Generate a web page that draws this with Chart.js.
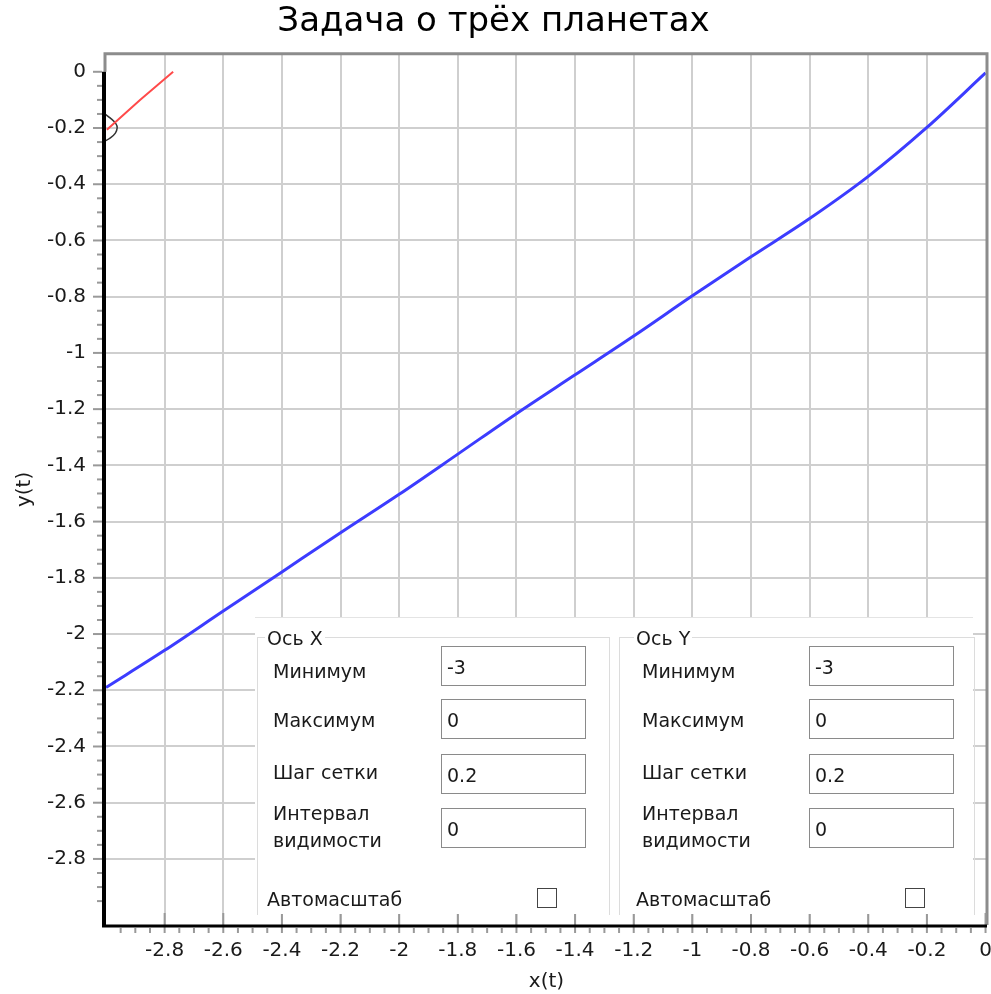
<!DOCTYPE html>
<html>
<head>
<meta charset="utf-8">
<script src="https://cdn.jsdelivr.net/npm/chart.js@4"></script>
<style>
  body { margin: 0; background: #fff; }
  #wrap { position: relative; width: 991px; height: 994px; }
  #panel { position: absolute; left: 255px; top: 617px; width: 718px; height: 296px; background: #fff; border-top: 1px solid #e4e4e4; font-family: 'DejaVu Sans', sans-serif; font-size: 19px; color: #1a1a1a; }
  .grp { position: absolute; top: 19px; height: 277px; border: 1px solid #dcdcdc; border-bottom: none; }
  .legend { position: absolute; top: 8px; background: #fff; padding: 0 2px; line-height: 24px; }
  .lbl { position: absolute; line-height: 24px; white-space: nowrap; }
  .lbl2 { position: absolute; line-height: 27px; white-space: nowrap; }
  .box { position: absolute; width: 145px; height: 40px; border: 1px solid #8a8a8a; background: #fff; line-height: 40px; padding-left: 5px; box-sizing: border-box; }
  .chk { position: absolute; width: 20px; height: 20px; border: 1px solid #444; box-sizing: border-box; background: #fff; }
</style>
</head>
<body>
<div id="wrap">
  <canvas id="myChart"></canvas>
  <div id="panel">
    <div class="grp" style="left:2px; width:351px;"></div>
    <div class="grp" style="left:364px; width:354px;"></div>
    <div class="legend" style="left:10px;">Ось X</div>
    <div class="legend" style="left:379px;">Ось Y</div>

    <div class="lbl" style="left:18px; top:41px;">Минимум</div>
    <div class="lbl" style="left:18px; top:90px;">Максимум</div>
    <div class="lbl" style="left:18px; top:142px;">Шаг сетки</div>
    <div class="lbl2" style="left:18px; top:182px;">Интервал<br>видимости</div>
    <div class="lbl" style="left:12px; top:269px;">Автомасштаб</div>
    <div class="box" style="left:186px; top:28px;">-3</div>
    <div class="box" style="left:186px; top:81px;">0</div>
    <div class="box" style="left:186px; top:136px;">0.2</div>
    <div class="box" style="left:186px; top:190px;">0</div>
    <div class="chk" style="left:282px; top:270px;"></div>

    <div class="lbl" style="left:387px; top:41px;">Минимум</div>
    <div class="lbl" style="left:387px; top:90px;">Максимум</div>
    <div class="lbl" style="left:387px; top:142px;">Шаг сетки</div>
    <div class="lbl2" style="left:387px; top:182px;">Интервал<br>видимости</div>
    <div class="lbl" style="left:381px; top:269px;">Автомасштаб</div>
    <div class="box" style="left:554px; top:28px;">-3</div>
    <div class="box" style="left:554px; top:81px;">0</div>
    <div class="box" style="left:554px; top:136px;">0.2</div>
    <div class="box" style="left:554px; top:190px;">0</div>
    <div class="chk" style="left:650px; top:270px;"></div>
  </div>
</div>
<script>
// planet paths
const blueX = [-3.0, -2.8, -2.6, -2.4, -2.2, -2.0, -1.8, -1.6, -1.4, -1.2, -1.0, -0.8, -0.6, -0.4, -0.2, 0.0];
const blueY = [-2.19, -2.058, -1.918, -1.779, -1.64, -1.503, -1.36, -1.216, -1.078, -0.94, -0.797, -0.658, -0.522, -0.372, -0.198, -0.004];
const redX = [-2.997, -2.884, -2.771];
const redY = [-0.206, -0.1, 0.0];
const blackX = [-3.01, -2.985, -2.966, -2.962, -2.968, -2.985, -3.01];
const blackY = [-0.145, -0.165, -0.185, -0.2, -0.218, -0.235, -0.25];

const xTicks = [-2.8, -2.6, -2.4, -2.2, -2.0, -1.8, -1.6, -1.4, -1.2, -1.0, -0.8, -0.6, -0.4, -0.2, 0];
const yTicks = [-2.8, -2.6, -2.4, -2.2, -2.0, -1.8, -1.6, -1.4, -1.2, -1.0, -0.8, -0.6, -0.4, -0.2, 0];
const minorStep = 0.05;
const minorCount = 59;

const pts = (xs, ys) => xs.map((x, i) => ({ x: x, y: ys[i] }));
const fmt = v => String(Math.round(v * 10) / 10);
const fontFam = 'DejaVu Sans';

// frame, black axes and tick marks
const axesPlugin = {
    id: 'axesPlugin',
    afterDraw(chart) {
        const { ctx, chartArea: a, scales: { x, y } } = chart;
        const y0 = y.getPixelForValue(0);
        ctx.save();
        ctx.strokeStyle = '#8c8c8c';
        ctx.lineWidth = 3;
        ctx.beginPath();
        ctx.moveTo(a.left - 1, y0);
        ctx.lineTo(a.left - 1, a.top);
        ctx.lineTo(a.right, a.top);
        ctx.lineTo(a.right, a.bottom);
        ctx.stroke();

        ctx.strokeStyle = '#999';
        ctx.lineWidth = 2;
        for (let k = -minorCount; k <= 0; k++) {
            const v = k * minorStep;
            const major = k % 4 === 0;
            const py = y.getPixelForValue(v);
            ctx.beginPath();
            ctx.moveTo(a.left - (major ? 13 : 9), py);
            ctx.lineTo(a.left - 4, py);
            ctx.stroke();
            const px = x.getPixelForValue(v);
            ctx.beginPath();
            ctx.moveTo(px, major ? a.bottom - 12 : a.bottom + 3);
            ctx.lineTo(px, a.bottom + 8);
            ctx.stroke();
        }

        ctx.strokeStyle = '#000';
        ctx.lineWidth = 4;
        ctx.beginPath();
        ctx.moveTo(a.left - 2, y0);
        ctx.lineTo(a.left - 2, a.bottom + 2);
        ctx.stroke();
        ctx.lineWidth = 3;
        ctx.beginPath();
        ctx.moveTo(a.left - 4, a.bottom + 1);
        ctx.lineTo(a.right, a.bottom + 1);
        ctx.stroke();
        ctx.restore();
    }
};

document.addEventListener('DOMContentLoaded', () => {
    const ctx = document.getElementById('myChart').getContext('2d');
    new Chart(ctx, {
        type: 'scatter',
        data: {
            datasets: [
                { data: pts(blueX, blueY), showLine: true, borderColor: '#3c3cff', borderWidth: 3, pointRadius: 0, cubicInterpolationMode: 'monotone' },
                { data: pts(redX, redY), showLine: true, borderColor: '#ff4a4a', borderWidth: 2, pointRadius: 0 },
                { data: pts(blackX, blackY), showLine: true, borderColor: '#333', borderWidth: 1.5, pointRadius: 0, tension: 0.4 }
            ]
        },
        options: {
            animation: false,
            responsive: true,
            maintainAspectRatio: false,
            layout: { padding: { left: 0, right: 4, top: 0, bottom: 0 } },
            plugins: {
                legend: { display: false },
                tooltip: { enabled: false },
                title: {
                    display: true,
                    text: 'Задача о трёх планетах',
                    color: '#000',
                    font: { family: fontFam, size: 34, weight: 'normal', lineHeight: 1.2 },
                    padding: { top: 2, bottom: 11 }
                }
            },
            scales: {
                x: {
                    type: 'linear',
                    min: -3,
                    max: 0.005,
                    afterBuildTicks: s => { s.ticks = xTicks.map(v => ({ value: v })); },
                    afterFit: s => { s.height = 69; s.paddingLeft = 0; s.paddingRight = 0; },
                    border: { display: false },
                    grid: {
                        color: c => (c.tick && c.tick.value === 0) ? 'rgba(0,0,0,0)' : '#cfcfcf',
                        lineWidth: 2,
                        drawTicks: false
                    },
                    ticks: {
                        color: '#1a1a1a',
                        font: { family: fontFam, size: 20 },
                        padding: 14,
                        maxRotation: 0,
                        autoSkip: false,
                        callback: v => fmt(v)
                    },
                    title: { display: true, text: 'x(t)', color: '#1a1a1a', font: { family: fontFam, size: 20 }, padding: 0 }
                },
                y: {
                    type: 'linear',
                    min: -3.035,
                    max: 0.064,
                    afterBuildTicks: s => { s.ticks = yTicks.map(v => ({ value: v })); },
                    afterFit: s => { s.width = 106; s.paddingTop = 0; s.paddingBottom = 0; },
                    border: { display: false },
                    grid: {
                        color: c => (c.tick && c.tick.value === 0) ? 'rgba(0,0,0,0)' : '#cfcfcf',
                        lineWidth: 2,
                        drawTicks: false
                    },
                    ticks: {
                        color: '#1a1a1a',
                        font: { family: fontFam, size: 20 },
                        padding: 20,
                        autoSkip: false,
                        callback: v => fmt(v)
                    },
                    title: { display: true, text: 'y(t)', color: '#1a1a1a', font: { family: fontFam, size: 20 }, padding: { top: 13, bottom: 0 } }
                }
            }
        },
        plugins: [axesPlugin]
    });
});
</script>
</body>
</html>
